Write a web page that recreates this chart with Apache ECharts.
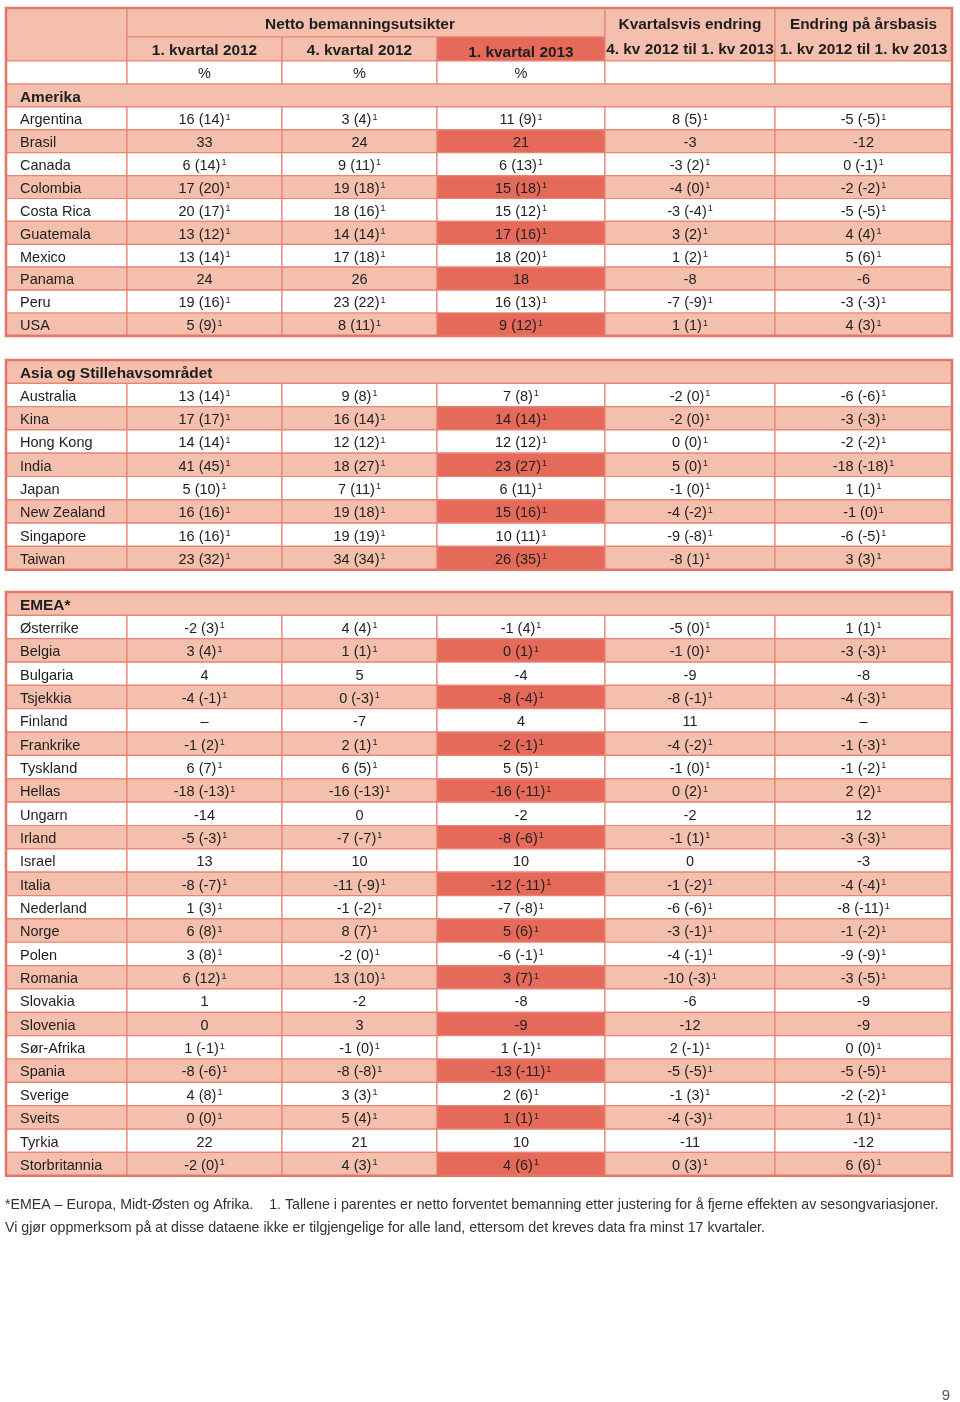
<!DOCTYPE html>
<html>
<head>
<meta charset="utf-8">
<script src="https://cdn.jsdelivr.net/npm/echarts@6/dist/echarts.min.js"></script>
<style>
  html, body { margin: 0; padding: 0; background: #ffffff; }
  #chart { width: 960px; height: 1402px; }
</style>
</head>
<body>
<div id="chart"></div>
<script>
// ---------------- DATA ----------------
const headerGroup = 'Netto bemanningsutsikter';
const periodLabels = ['1. kvartal 2012', '4. kvartal 2012', '1. kvartal 2013'];
const changeTitles = ['Kvartalsvis endring', 'Endring på årsbasis'];
const changeLabels = ['4. kv 2012 til 1. kv 2013', '1. kv 2012 til 1. kv 2013'];
const unitLabel = '%';

const sectionNames = ['Amerika', 'Asia og Stillehavsområdet', 'EMEA*'];

const amerika = ['Argentina', 'Brasil', 'Canada', 'Colombia', 'Costa Rica', 'Guatemala', 'Mexico', 'Panama', 'Peru', 'USA'];
const asia = ['Australia', 'Kina', 'Hong Kong', 'India', 'Japan', 'New Zealand', 'Singapore', 'Taiwan'];
const emea = ['Østerrike', 'Belgia', 'Bulgaria', 'Tsjekkia', 'Finland', 'Frankrike', 'Tyskland', 'Hellas', 'Ungarn', 'Irland',
  'Israel', 'Italia', 'Nederland', 'Norge', 'Polen', 'Romania', 'Slovakia', 'Slovenia', 'Sør-Afrika', 'Spania',
  'Sverige', 'Sveits', 'Tyrkia', 'Storbritannia'];

// Values in order: amerika, asia, emea.  *_adj = seasonally adjusted (null = not available)
const q1_2012 = [16, 33, 6, 17, 20, 13, 13, 24, 19, 5,
  13, 17, 14, 41, 5, 16, 16, 23,
  -2, 3, 4, -4, null, -1, 6, -18, -14, -5, 13, -8, 1, 6, 3, 6, 1, 0, 1, -8, 4, 0, 22, -2];
const q1_2012_adj = [14, null, 14, 20, 17, 12, 14, null, 16, 9,
  14, 17, 14, 45, 10, 16, 16, 32,
  3, 4, null, -1, null, 2, 7, -13, null, -3, null, -7, 3, 8, 8, 12, null, null, -1, -6, 8, 0, null, 0];

const q4_2012 = [3, 24, 9, 19, 18, 14, 17, 26, 23, 8,
  9, 16, 12, 18, 7, 19, 19, 34,
  4, 1, 5, 0, -7, 2, 6, -16, 0, -7, 10, -11, -1, 8, -2, 13, -2, 3, -1, -8, 3, 5, 21, 4];
const q4_2012_adj = [4, null, 11, 18, 16, 14, 18, null, 22, 11,
  8, 14, 12, 27, 11, 18, 19, 34,
  4, 1, null, -3, null, 1, 5, -13, null, -7, null, -9, -2, 7, 0, 10, null, null, 0, -8, 3, 4, null, 3];

const q1_2013 = [11, 21, 6, 15, 15, 17, 18, 18, 16, 9,
  7, 14, 12, 23, 6, 15, 10, 26,
  -1, 0, -4, -8, 4, -2, 5, -16, -2, -8, 10, -12, -7, 5, -6, 3, -8, -9, 1, -13, 2, 1, 10, 4];
const q1_2013_adj = [9, null, 13, 18, 12, 16, 20, null, 13, 12,
  8, 14, 12, 27, 11, 16, 11, 35,
  4, 1, null, -4, null, -1, 5, -11, null, -6, null, -11, -8, 6, -1, 7, null, null, -1, -11, 6, 1, null, 6];

const qoqChange = [8, -3, -3, -4, -3, 3, 1, -8, -7, 1,
  -2, -2, 0, 5, -1, -4, -9, -8,
  -5, -1, -9, -8, 11, -4, -1, 0, -2, -1, 0, -1, -6, -3, -4, -10, -6, -12, 2, -5, -1, -4, -11, 0];
const qoqChange_adj = [5, null, 2, 0, -4, 2, 2, null, -9, 1,
  0, 0, 0, 0, 0, -2, -8, 1,
  0, 0, null, -1, null, -2, 0, 2, null, 1, null, -2, -6, -1, -1, -3, null, null, -1, -5, 3, -3, null, 3];

const yoyChange = [-5, -12, 0, -2, -5, 4, 5, -6, -3, 4,
  -6, -3, -2, -18, 1, -1, -6, 3,
  1, -3, -8, -4, null, -1, -1, 2, 12, -3, -3, -4, -8, -1, -9, -3, -9, -9, 0, -5, -2, 1, -12, 6];
const yoyChange_adj = [-5, null, -1, -2, -5, 4, 6, null, -3, 3,
  -6, -3, -2, -18, 1, 0, -5, 3,
  1, -3, null, -3, null, -3, -2, 2, null, -3, null, -4, -11, -2, -9, -5, null, null, 0, -5, -2, 1, null, 6];

const footnote1 = '*EMEA – Europa, Midt-Østen og Afrika.\u00a0\u00a0\u00a0 1. Tallene i parentes er netto forventet bemanning etter justering for å fjerne effekten av sesongvariasjoner.';
const footnote2 = 'Vi gjør oppmerksom på at disse dataene ikke er tilgjengelige for alle land, ettersom det kreves data fra minst 17 kvartaler.';
const pageNumber = '9';

// ---------------- LAYOUT / STYLE ----------------
const COLS = [6, 127, 282, 437, 605, 775, 952];
const HEAD_ROWS = [8, 37, 61, 84];
const SECTION_GEOM = [
  { top: 84, rowH: 22.9 },
  { top: 360, rowH: 23.3 },
  { top: 592, rowH: 23.35 }
];
const SALMON = '#f4bfad';
const DARK = '#e66a5a';
const WHITE = '#ffffff';
const LINE = '#e98474';
const FRAME = '#e3766a';
const TEXT = '#1e1e1e';
const FONT = '"Liberation Sans", Arial, Helvetica, sans-serif';
const FS = 14.5;
const FS_BOLD = 15.4;
const TEXT_DY = 1.8;

const RICH = {
  n: { fontSize: FS, fontFamily: FONT, color: TEXT },
  s: { fontSize: 9, fontFamily: FONT, color: TEXT, verticalAlign: 'top', padding: [0, 0, 0, 1] }
};

function fmt(v, adj) {
  if (v === null || v === undefined) return '–';
  if (adj === null || adj === undefined) return String(v);
  return '{n|' + v + ' (' + adj + ')}{s|1}';
}

// ---------------- BUILD CELLS ----------------
const cells = [];
const frames = [];
function addCell(x0, y0, x1, y1, fill, texts) {
  cells.push({ value: [x0, y0, x1, y1], fill: fill, texts: texts || [] });
}

// header block
addCell(COLS[0], HEAD_ROWS[0], COLS[1], HEAD_ROWS[2], SALMON);
addCell(COLS[1], HEAD_ROWS[0], COLS[4], HEAD_ROWS[1], SALMON, [{ text: headerGroup, align: 'center', pos: 0.5, dx: -6, bold: true }]);
for (let i = 0; i < 3; i++) {
  addCell(COLS[1 + i], HEAD_ROWS[1], COLS[2 + i], HEAD_ROWS[2], i === 2 ? DARK : SALMON,
    [{ text: periodLabels[i], align: 'center', pos: 0.5, dy: i === 2 ? 2 : 0, bold: true }]);
}
for (let i = 0; i < 2; i++) {
  addCell(COLS[4 + i], HEAD_ROWS[0], COLS[5 + i], HEAD_ROWS[2], SALMON, [
    { text: changeTitles[i], align: 'center', pos: 0.28, bold: true },
    { text: changeLabels[i], align: 'center', pos: 0.755, bold: true }
  ]);
}
for (let c = 0; c < 6; c++) {
  addCell(COLS[c], HEAD_ROWS[2], COLS[c + 1], HEAD_ROWS[3], WHITE,
    (c >= 1 && c <= 3) ? [{ text: unitLabel, align: 'center', pos: 0.5 }] : []);
}

const groups = [amerika, asia, emea];
const valueCols = [
  [q1_2012, q1_2012_adj], [q4_2012, q4_2012_adj], [q1_2013, q1_2013_adj],
  [qoqChange, qoqChange_adj], [yoyChange, yoyChange_adj]
];
let idx = 0;
groups.forEach((countries, s) => {
  const g = SECTION_GEOM[s];
  addCell(COLS[0], g.top, COLS[6], g.top + g.rowH, SALMON,
    [{ text: sectionNames[s], align: 'left', pos: 0.5, bold: true }]);
  countries.forEach((name, r) => {
    const y0 = g.top + g.rowH * (r + 1);
    const y1 = y0 + g.rowH;
    const shaded = r % 2 === 1;
    addCell(COLS[0], y0, COLS[1], y1, shaded ? SALMON : WHITE, [{ text: name, align: 'left', pos: 0.5 }]);
    valueCols.forEach((pair, c) => {
      const fill = shaded ? (c === 2 ? DARK : SALMON) : WHITE;
      addCell(COLS[c + 1], y0, COLS[c + 2], y1, fill,
        [{ text: fmt(pair[0][idx], pair[1][idx]), align: 'center', pos: 0.5 }]);
    });
    idx++;
  });
  const top = s === 0 ? HEAD_ROWS[0] : g.top;
  frames.push([COLS[0], top, COLS[6], g.top + g.rowH * (countries.length + 1)]);
});

// ---------------- RENDER ----------------
function renderCell(params, api) {
  const c = cells[params.dataIndex];
  const p0 = api.coord([api.value(0), api.value(1)]);
  const p1 = api.coord([api.value(2), api.value(3)]);
  const w = p1[0] - p0[0], h = p1[1] - p0[1];
  const children = [{
    type: 'rect',
    shape: { x: p0[0], y: p0[1], width: w, height: h },
    style: { fill: c.fill, stroke: LINE, lineWidth: 1.2 }
  }];
  c.texts.forEach(t => {
    children.push({
      type: 'text',
      z2: 10,
      style: {
        text: t.text,
        x: (t.align === 'left' ? p0[0] + 14 : p0[0] + w / 2) + (t.dx || 0),
        y: p0[1] + h * t.pos + (t.dy || 0) + TEXT_DY,
        align: t.align,
        verticalAlign: 'middle',
        fontSize: t.bold ? FS_BOLD : FS,
        fontFamily: FONT,
        fontWeight: t.bold ? 'bold' : 'normal',
        fill: TEXT,
        rich: RICH
      }
    });
  });
  return { type: 'group', children: children };
}

function renderFrame(params, api) {
  const p0 = api.coord([api.value(0), api.value(1)]);
  const p1 = api.coord([api.value(2), api.value(3)]);
  return {
    type: 'rect',
    shape: { x: p0[0], y: p0[1], width: p1[0] - p0[0], height: p1[1] - p0[1] },
    style: { fill: 'none', stroke: FRAME, lineWidth: 2.6 }
  };
}

const chart = echarts.init(document.getElementById('chart'), null, { renderer: 'canvas' });
chart.setOption({
  backgroundColor: '#ffffff',
  animation: false,
  title: [
    { text: footnote1, left: 5, top: 1198, padding: 0,
      textStyle: { fontFamily: FONT, fontSize: 14.2, fontWeight: 'normal', color: '#333333' } },
    { text: footnote2, left: 5, top: 1221, padding: 0,
      textStyle: { fontFamily: FONT, fontSize: 14.2, fontWeight: 'normal', color: '#333333' } },
    { text: pageNumber, right: 10, top: 1388, padding: 0,
      textStyle: { fontFamily: FONT, fontSize: 15, fontWeight: 'normal', color: '#555555' } }
  ],
  grid: { left: 0, right: 0, top: 0, bottom: 0 },
  xAxis: { type: 'value', min: 0, max: 960, show: false },
  yAxis: { type: 'value', min: 0, max: 1402, inverse: true, show: false },
  series: [
    {
      type: 'custom', name: 'cells', renderItem: renderCell,
      encode: { x: [0, 2], y: [1, 3] }, data: cells, silent: true, clip: false
    },
    {
      type: 'custom', name: 'frames', renderItem: renderFrame, z: 5,
      encode: { x: [0, 2], y: [1, 3] }, data: frames, silent: true, clip: false
    }
  ]
});
</script>
</body>
</html>
